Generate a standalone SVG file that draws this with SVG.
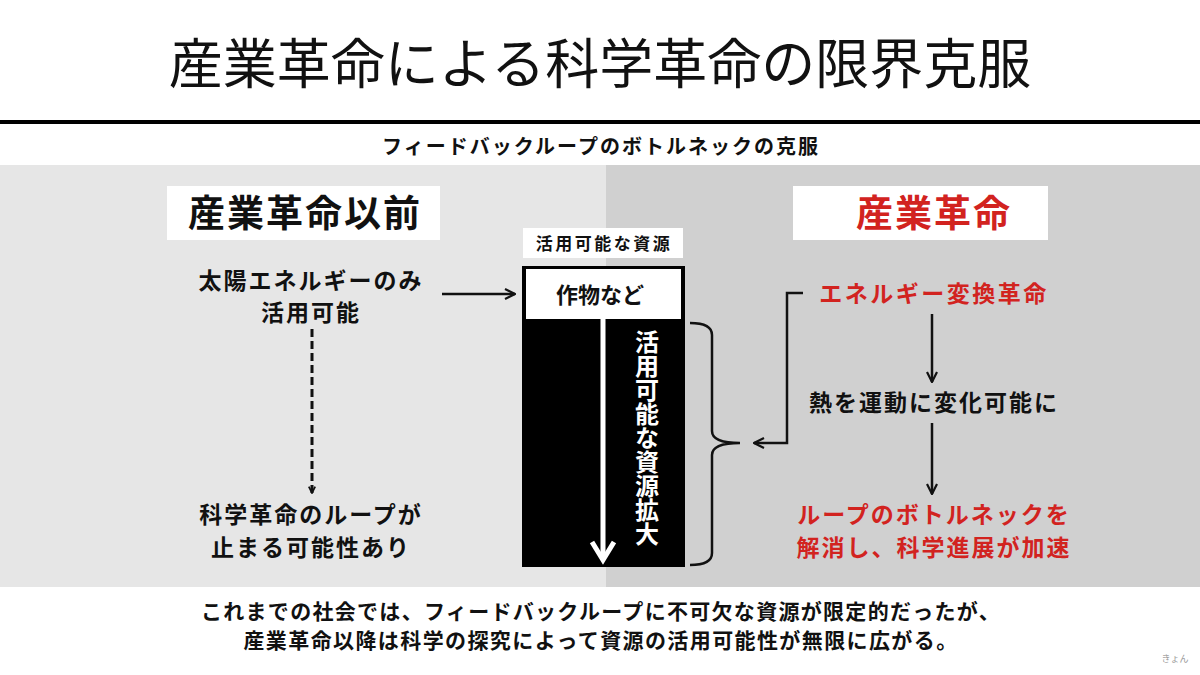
<svg xmlns="http://www.w3.org/2000/svg" width="1200" height="675" viewBox="0 0 1200 675">
<style>
text{font-family:"Noto Sans CJK JP","Noto Sans",sans-serif;text-anchor:middle}
.b{font-weight:700}
.t{font-size:23px;font-weight:700;fill:#111;letter-spacing:2px}
.r{fill:#d2231f}
.ln{stroke:#111;stroke-width:2.5;fill:none}
</style>
<defs>
<marker id="ah" viewBox="0 0 10 10" refX="9" refY="5" markerWidth="8" markerHeight="8" orient="auto" markerUnits="userSpaceOnUse">
<path d="M1,1 L9,5 L1,9" fill="none" stroke="#111" stroke-width="2.2"/>
</marker>
<marker id="ahb" viewBox="0 0 12 12" refX="11" refY="6" markerWidth="12" markerHeight="12" orient="auto" markerUnits="userSpaceOnUse">
<path d="M1,1 L11,6 L1,11" fill="none" stroke="#111" stroke-width="2.2"/>
</marker>
</defs>
<rect width="1200" height="675" fill="#fff"/>
<text x="600" y="84" font-size="54" fill="#111">産業革命による科学革命の限界克服</text>
<rect x="0" y="120" width="1200" height="4" fill="#000"/>
<text x="601" y="154" font-size="20" class="b" fill="#111" letter-spacing="2">フィードバックループのボトルネックの克服</text>
<rect x="0" y="165" width="606" height="422" fill="#e6e6e6"/>
<rect x="606" y="165" width="594" height="422" fill="#d0d0d0"/>

<g id="before-label">
<rect x="167" y="186" width="273" height="54" fill="#fff"/>
<text x="305" y="227" font-size="37" class="b" fill="#111" letter-spacing="2">産業革命以前</text>
</g>
<g id="ir-label">
<rect x="793" y="186" width="255" height="54" fill="#fff"/>
<text x="934" y="227" font-size="37" class="b r" letter-spacing="2">産業革命</text>
</g>
<g id="solar">
<text x="311" y="289" class="t">太陽エネルギーのみ</text>
<text x="311" y="321" class="t">活用可能</text>
</g>
<g id="stop">
<text x="311" y="523" class="t">科学革命のループが</text>
<text x="311" y="556" class="t">止まる可能性あり</text>
</g>
<g id="resources">
<rect x="523" y="228" width="160" height="30" fill="#fff"/>
<text x="604" y="250" font-size="17" class="b" fill="#111" letter-spacing="2.5">活用可能な資源</text>
<rect x="522" y="266" width="163" height="301" fill="#000"/>
<rect x="526" y="269" width="155" height="50" fill="#fff"/>
<text x="600" y="303" font-size="22" class="b" fill="#111">作物など</text>
<line x1="603" y1="319" x2="603" y2="560" stroke="#fff" stroke-width="5"/>
<path d="M592,542 L603,560 L614,542" fill="none" stroke="#fff" stroke-width="5"/>
<text x="647" y="330" font-size="24" class="b" fill="#fff" style="writing-mode:vertical-rl;text-anchor:start">活用可能な資源拡大</text>
</g>
<g id="energy">
<text x="934" y="302" font-size="23" class="b r" letter-spacing="2.5">エネルギー変換革命</text>
</g>
<g id="heat">
<text x="934" y="411" font-size="23" class="b" fill="#111" letter-spacing="2">熱を運動に変化可能に</text>
</g>
<g id="resolve">
<text x="934" y="523" font-size="23" class="b r" letter-spacing="2">ループのボトルネックを</text>
<text x="934" y="556" font-size="23" class="b r" letter-spacing="2">解消し、科学進展が加速</text>
</g>
<g id="connectors">
<line x1="442" y1="294" x2="515" y2="294" class="ln" marker-end="url(#ahb)"/>
<line x1="312" y1="329" x2="312" y2="493" stroke="#111" stroke-width="3" stroke-dasharray="8,4" marker-end="url(#ah)"/>
<path d="M690,323 Q712,323 712,335 L712,431 Q712,443 740,443 Q712,443 712,455 L712,553 Q712,565 690,565" class="ln"/>
<path d="M803,293 L787,293 L787,443 L754,443" class="ln" marker-end="url(#ahb)"/>
<line x1="932" y1="314" x2="932" y2="382" class="ln" marker-end="url(#ahb)"/>
<line x1="932" y1="423" x2="932" y2="494" class="ln" marker-end="url(#ahb)"/>
</g>
<text x="601" y="619" font-size="21" class="b" fill="#111" letter-spacing="1.3">これまでの社会では、フィードバックループに不可欠な資源が限定的だったが、</text>
<text x="601" y="648" font-size="21" class="b" fill="#111" letter-spacing="1.4">産業革命以降は科学の探究によって資源の活用可能性が無限に広がる。</text>
<text x="1175" y="662" font-size="9" fill="#999">きょん</text>
</svg>
